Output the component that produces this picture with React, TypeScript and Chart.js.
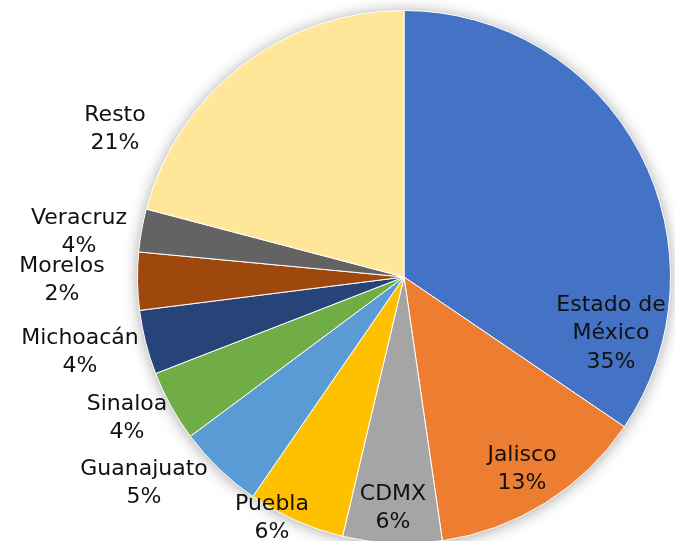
import React, { useEffect, useRef } from "react";
import { Chart, registerables } from "chart.js";

Chart.register(...registerables);

const categories = [
  "Estado de México",
  "Jalisco",
  "CDMX",
  "Puebla",
  "Guanajuato",
  "Sinaloa",
  "Michoacán",
  "Morelos",
  "Veracruz",
  "Resto",
];
const shares = [34.5, 13.2, 6.0, 5.9, 5.2, 4.3, 3.9, 3.5, 2.6, 20.9];
const pctLabels = ["35%", "13%", "6%", "6%", "5%", "4%", "4%", "2%", "4%", "21%"];
const nameLines = [
  ["Estado de", "México"],
  ["Jalisco"],
  ["CDMX"],
  ["Puebla"],
  ["Guanajuato"],
  ["Sinaloa"],
  ["Michoacán"],
  ["Morelos"],
  ["Veracruz"],
  ["Resto"],
];
const colors = [
  "#4472C4",
  "#ED7D31",
  "#A5A5A5",
  "#FFC000",
  "#5B9BD5",
  "#70AD47",
  "#264478",
  "#9E480E",
  "#636363",
  "#FFE699",
];
// label anchor (center of first line), in canvas pixels
const labelPos = [
  [611, 305],
  [522, 455],
  [393, 494],
  [272, 504],
  [144, 469],
  [127, 404],
  [80, 338],
  [62, 266],
  [79, 218],
  [115, 115],
];

const shadowPlugin = {
  id: "pieShadow",
  beforeDatasetsDraw(chart: any) {
    const meta = chart.getDatasetMeta(0);
    const arc = meta.data[0];
    if (!arc) return;
    const { x, y, outerRadius } = arc.getProps(["x", "y", "outerRadius"], true);
    const ctx = chart.ctx;
    ctx.save();
    ctx.shadowColor = "rgba(0,0,0,0.4)";
    ctx.shadowBlur = 16;
    ctx.shadowOffsetX = 0;
    ctx.shadowOffsetY = 1;
    ctx.beginPath();
    ctx.arc(x, y, outerRadius - 1, 0, Math.PI * 2);
    ctx.fillStyle = "#ffffff";
    ctx.fill();
    ctx.restore();
  },
};

const labelPlugin = {
  id: "pieLabels",
  afterDatasetsDraw(chart: any) {
    const ctx = chart.ctx;
    ctx.save();
    ctx.font = "22px 'DejaVu Sans'";
    ctx.fillStyle = "#111111";
    ctx.textAlign = "center";
    ctx.textBaseline = "middle";
    const lh = 28.5;
    categories.forEach((_, i) => {
      const [px, py] = labelPos[i];
      const lines = [...nameLines[i], pctLabels[i]];
      lines.forEach((t, j) => ctx.fillText(t, px, py + j * lh));
    });
    ctx.restore();
  },
};

export default function App() {
  const ref = useRef<HTMLCanvasElement | null>(null);
  useEffect(() => {
    if (!ref.current) return;
    const chart = new Chart(ref.current, {
      type: "pie",
      data: {
        labels: categories,
        datasets: [
          {
            data: shares,
            backgroundColor: colors,
            borderColor: "#ffffff",
            borderWidth: 1,
          },
        ],
      },
      options: {
        responsive: false,
        animation: false,
        devicePixelRatio: 1,
        layout: { padding: { left: 137, right: 4, top: 10, bottom: 16 } },
        plugins: {
          legend: { display: false },
          tooltip: { enabled: false },
        },
      },
      plugins: [shadowPlugin, labelPlugin],
    });
    return () => chart.destroy();
  }, []);
  return (
    <div style={{ position: "absolute", left: 0, top: 0, width: 675, height: 560, background: "#fff" }}>
      <canvas ref={ref} width={675} height={560} />
    </div>
  );
}
